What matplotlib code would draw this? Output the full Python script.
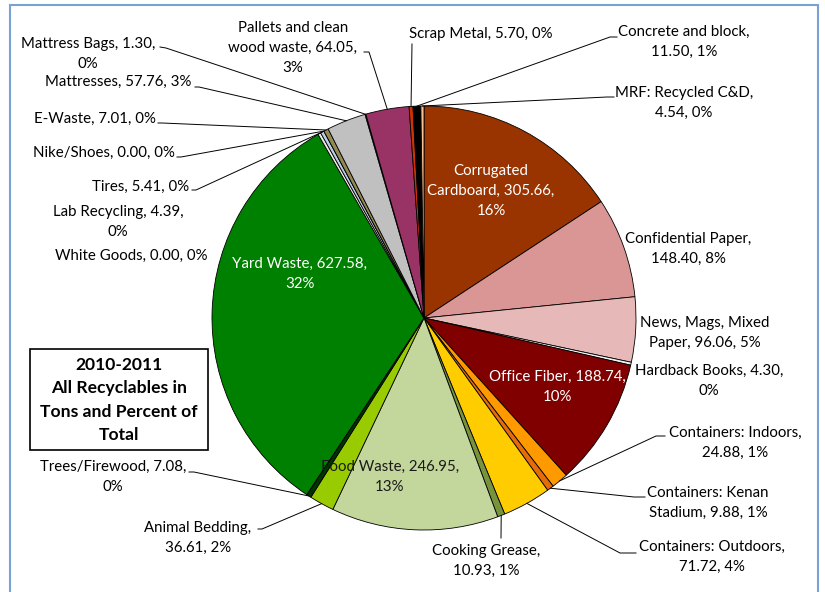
import matplotlib
matplotlib.use("Agg")
import matplotlib.pyplot as plt
from matplotlib.patches import Rectangle
import numpy as np

plt.rcParams['font.family'] = ['Lato', 'DejaVu Sans']

# ---------------- data ----------------
categories = [
    "Corrugated Cardboard", "Confidential Paper", "News, Mags, Mixed Paper",
    "Hardback Books", "Office Fiber", "Containers: Indoors",
    "Containers: Kenan Stadium", "Containers: Outdoors", "Cooking Grease",
    "Food Waste", "Animal Bedding", "Trees/Firewood", "White Goods",
    "Yard Waste", "Lab Recycling", "Tires", "Nike/Shoes", "E-Waste",
    "Mattresses", "Mattress Bags", "Pallets and clean wood waste",
    "Scrap Metal", "Concrete and block", "MRF: Recycled C&D",
]
tons = [
    305.66, 148.40, 96.06,
    4.30, 188.74, 24.88,
    9.88, 71.72, 10.93,
    246.95, 36.61, 7.08, 0.00,
    627.58, 4.39, 5.41, 0.00, 7.01,
    57.76, 1.30, 64.05,
    5.70, 11.50, 4.54,
]
colors = [
    "#993300", "#D99694", "#E6B9B8",
    "#F2F2F2", "#800000", "#FF9900",
    "#E46C0A", "#FFCC00", "#77933C",
    "#C3D69B", "#99CC00", "#003300", "#FFFFFF",
    "#008000", "#EEECE1", "#B9CDE5", "#FFFFFF", "#938953",
    "#C0C0C0", "#FFFFFF", "#993366",
    "#CC3300", "#000000", "#FAC090",
]
title_text = "2010-2011\nAll Recyclables in\nTons and Percent of\nTotal"

# ---------------- layout (pixel coords, y from top) ----------------
W, H = 825, 592
CX, CY, R = 424, 318, 212

# name -> (template, x, y, text colour, leader start, knee)
label_layout = {
    "Corrugated Cardboard": ("Corrugated\nCardboard, {v},\n{p}", 491, 191, "white", None, None),
    "Confidential Paper": ("Confidential Paper,\n{v}, {p}", 688, 249, "black", None, None),
    "News, Mags, Mixed Paper": ("News, Mags, Mixed\nPaper, {v}, {p}", 705, 333, "black", None, None),
    "Hardback Books": ("Hardback Books, {v},\n{p}", 709, 381, "black", None, None),
    "Office Fiber": ("Office Fiber, {v},\n{p}", 557, 387, "white", None, None),
    "Containers: Indoors": ("Containers: Indoors,\n{v}, {p}", 735, 443, "black", (665, 436), (656, 436)),
    "Containers: Kenan Stadium": ("Containers: Kenan\nStadium, {v}, {p}", 708, 503, "black", (645, 497), (634, 497)),
    "Containers: Outdoors": ("Containers: Outdoors,\n{v}, {p}", 712, 557, "black", (636, 553), (620, 553)),
    "Cooking Grease": ("Cooking Grease,\n{v}, {p}", 486, 561, "black", (501, 538), None),
    "Food Waste": ("Food Waste, {v},\n{p}", 390, 477, "#1a1a1a", None, None),
    "Animal Bedding": ("Animal Bedding,\n{v}, {p}", 198, 538, "black", (258, 529), (262, 529)),
    "Trees/Firewood": ("Trees/Firewood, {v},\n{p}", 113, 477, "black", (189, 472), (194, 472)),
    "White Goods": ("White Goods, {v}, {p}", 131, 256, "black", None, None),
    "Yard Waste": ("Yard Waste, {v},\n{p}", 300, 274, "white", None, None),
    "Lab Recycling": ("Lab Recycling, {v},\n{p}", 118, 222, "black", None, None),
    "Tires": ("Tires, {v}, {p}", 141, 187, "black", (192, 190), (196, 190)),
    "Nike/Shoes": ("Nike/Shoes, {v}, {p}", 104, 153, "black", (177, 157), (181, 157)),
    "E-Waste": ("E-Waste, {v}, {p}", 95, 119, "black", (158, 123), (162, 123)),
    "Mattresses": ("Mattresses, {v}, {p}", 118, 82, "black", (195, 87), (199, 87)),
    "Mattress Bags": ("Mattress Bags, {v},\n{p}", 88, 54, "black", (160, 47), (166, 48)),
    "Pallets and clean wood waste": ("Pallets and clean\nwood waste, {v},\n{p}", 293, 48, "black", (364, 52), (369, 52)),
    "Scrap Metal": ("Scrap Metal, {v}, {p}", 481, 34, "black", (412, 44), None),
    "Concrete and block": ("Concrete and block,\n{v}, {p}", 684, 42, "black", (617, 37), (610, 37)),
    "MRF: Recycled C&D": ("MRF: Recycled C&D,\n{v}, {p}", 684, 103, "black", (614, 97), (607, 97)),
}

def Y(py):
    return H - py

fig = plt.figure(figsize=(W / 100, H / 100), dpi=100)
ax = fig.add_axes([0, 0, 1, 1])

wedges, _ = ax.pie(tons, colors=colors, startangle=90, counterclock=False,
                   center=(CX, Y(CY)), radius=R,
                   wedgeprops=dict(edgecolor="black", linewidth=0.6))
ax.set_xlim(0, W)
ax.set_ylim(0, H)
ax.set_aspect("equal")
ax.axis("off")

total = float(np.sum(tons))
FS = 10.8
for name, val, w in zip(categories, tons, wedges):
    tpl, tx, ty, tc, start, knee = label_layout[name]
    txt = tpl.format(v=f"{val:.2f}", p=f"{val / total * 100:.0f}%")
    ax.text(tx, Y(ty), txt, ha="center", va="center", fontsize=FS,
            color=tc, linespacing=1.58, zorder=5)
    if start is not None:
        th = np.deg2rad((w.theta1 + w.theta2) / 2)
        ex, ey = CX + R * np.cos(th), Y(CY) + R * np.sin(th)
        xs, ys = [start[0]], [Y(start[1])]
        if knee is not None:
            xs.append(knee[0]); ys.append(Y(knee[1]))
        xs.append(ex); ys.append(ey)
        ax.plot(xs, ys, color="black", linewidth=0.7, zorder=4)

# chart frame
ax.add_patch(Rectangle((10, Y(640)), 808, 635, fill=False,
                       edgecolor="#7BA0D4", linewidth=1.5, zorder=1))
# title box
ax.add_patch(Rectangle((30, Y(450)), 178, 101, facecolor="white",
                       edgecolor="black", linewidth=1.2, zorder=6))
ax.text(119, Y(400), title_text, ha="center", va="center", fontsize=12.6,
        fontweight="bold", linespacing=1.55, zorder=7)

fig.savefig("out.png", dpi=100)
